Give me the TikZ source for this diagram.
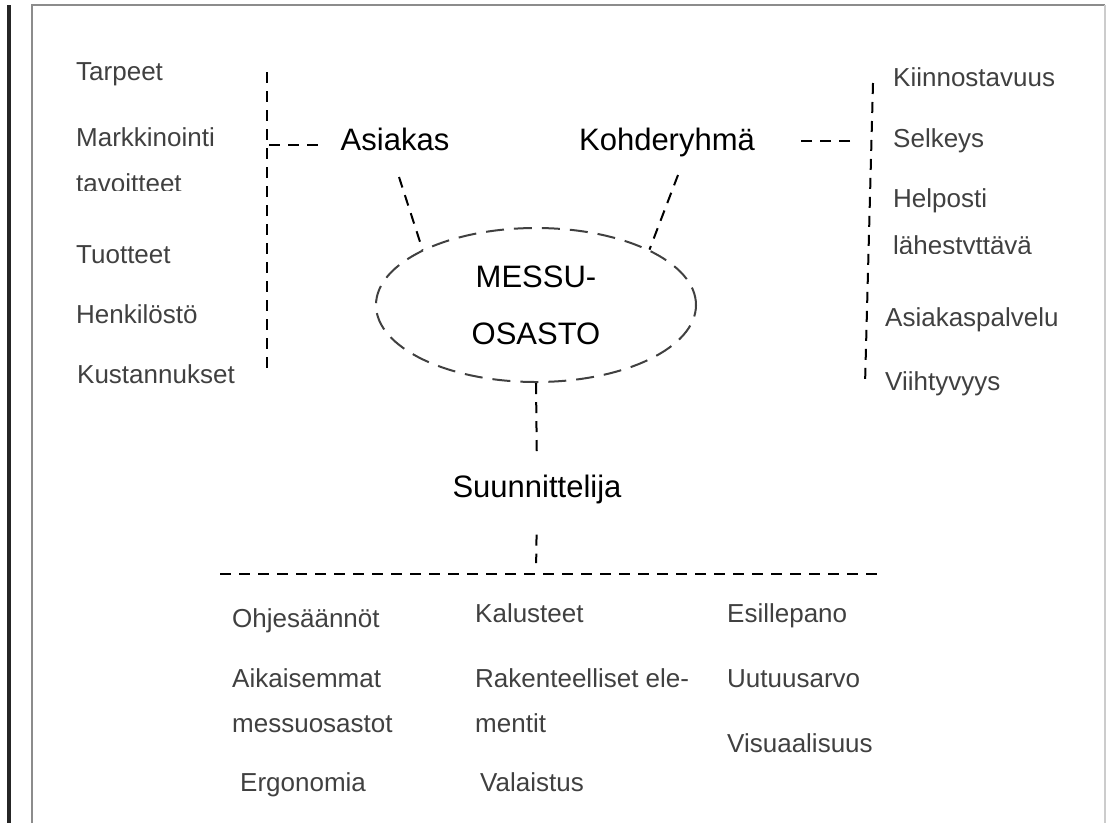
\documentclass[tikz,border=0pt]{standalone}
\usepackage{fontspec}
\setmainfont{Liberation Sans}
\usetikzlibrary{calc,shapes.geometric,positioning}
\colorlet{itemgray}{black!75}
\colorlet{framegray}{black!45}

\begin{document}
\begin{tikzpicture}[x=1pt,y=-1pt,
    item/.style={anchor=base west, inner sep=0pt, text=itemgray, font=\fontsize{26}{30}\selectfont},
    mainlabel/.style={anchor=base, inner sep=0pt, font=\fontsize{31}{36}\selectfont},
    conn/.style={line width=2pt, dash pattern=on 11pt off 8pt},
    ovalline/.style={draw=black!75, line width=2pt, dash pattern=on 18pt off 10pt}]
  \useasboundingbox (0,0) rectangle (1107,823);

  % Page frame
  \draw[line width=4pt, black!85] (9,5) -- (9,823);
  \draw[line width=2pt, framegray] (32,823) -- (32,5) -- (1105,5);
  \draw[line width=1.5pt, black!20] (1105,5) -- (1105,823);

  % Centre: the stand
  \node[ellipse, ovalline, minimum width=320pt, minimum height=154pt, inner sep=0pt,
        align=center, font=\fontsize{31}{57}\selectfont] (osasto) at (536,305) {MESSU-\\OSASTO};

  % Parties
  \node[mainlabel] (asiakas) at (395,150) {Asiakas};
  \node[mainlabel] (kohde) at (667,150) {Kohderyhmä};
  \node[mainlabel] (suunn) at (537,497) {Suunnittelija};

  % Left list (Asiakas)
  \node[item] (tarpeet) at (76,80) {Tarpeet};
  \node[item] (markk) at (76,146) {Markkinointi};
  \begin{scope}
    \clip (60,160) rectangle (260,190);
    \node[item] (tavoit) at (76,192) {tavoitteet};
  \end{scope}
  \node[item] (tuotteet) at (76,263) {Tuotteet};
  \node[item] (henk) at (76,323) {Henkilöstö};
  \node[item] (kust) at (77,383) {Kustannukset};

  % Right list (Kohderyhmä)
  \node[item] (kiinn) at (893,86) {Kiinnostavuus};
  \node[item] (selk) at (893,147) {Selkeys};
  \node[item] (help) at (893,207) {Helposti};
  \begin{scope}
    \clip (880,220) rectangle (1090,253);
    \node[item] (lahe) at (893,254) {lähestyttävä};
  \end{scope}
  \node[item] (apalv) at (885,326) {Asiakaspalvelu};
  \node[item] (viiht) at (885,390) {Viihtyvyys};

  % Bottom list (Suunnittelija), three columns
  \node[item] (ohje) at (232,627) {Ohjesäännöt};
  \node[item] (aikai) at (232,687) {Aikaisemmat};
  \node[item] (messuo) at (232,732) {messuosastot};
  \node[item] (ergo) at (240,791) {Ergonomia};
  \node[item] (kalu) at (475,622) {Kalusteet};
  \node[item] (rake) at (475,687) {Rakenteelliset ele-};
  \node[item] (ment) at (475,732) {mentit};
  \node[item] (vala) at (480,791) {Valaistus};
  \node[item] (esil) at (727,622) {Esillepano};
  \node[item] (uutu) at (727,687) {Uutuusarvo};
  \node[item] (visu) at (727,752) {Visuaalisuus};

  % Bracket lines
  \coordinate (ltop) at (267,72);
  \coordinate (lbot) at (267,375);
  \coordinate (lmid) at (269,145);
  \coordinate (rtop) at (873,83);
  \coordinate (rbot) at (865,385);
  \coordinate (rmid) at (867,141);
  \coordinate (barL) at (220,574);
  \coordinate (barR) at (883,574);
  \coordinate (barmid) at (536,574);
  \draw[conn] (ltop) -- (lbot);
  \draw[conn] (rtop) -- (rbot);
  \draw[conn] (barL) -- (barR);

  % Connectors
  \coordinate (asiakasfoot) at (399,177);
  \coordinate (kohdefoot) at (678,175);
  \draw[conn, shorten >=21pt] (lmid) -- (lmid -| asiakas.west);
  \draw[conn, shorten <=17pt, shorten >=46pt] (rmid) -- (rmid -| kohde.east);
  \draw[conn] (asiakasfoot) -- (osasto.154);
  \draw[conn] (kohdefoot) -- (osasto.26);
  \draw[conn, shorten >=17pt] (osasto.south) -- (suunn.north);
  \draw[conn, shorten <=31pt, shorten >=11pt] (suunn.south) -- (barmid);
\end{tikzpicture}
\end{document}
